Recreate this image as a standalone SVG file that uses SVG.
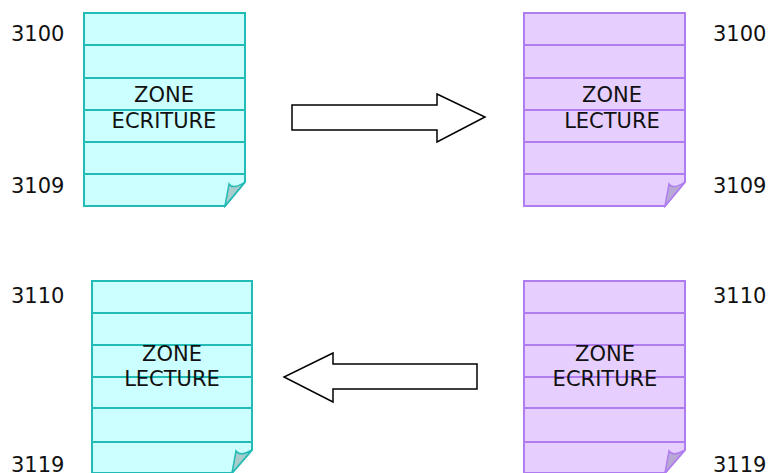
<svg xmlns="http://www.w3.org/2000/svg" width="769" height="473" viewBox="0 0 769 473">
<style>
text{font-family:"DejaVu Sans","Verdana",sans-serif;font-size:21px;fill:#111;}
.zt{text-anchor:middle;}
.cy .pg{fill:#CCFFFF;stroke:#22BBB5;stroke-width:2;}
.cy .ln{stroke:#22BBB5;stroke-width:2;fill:none;}
.cy .fd{fill:#A8CCCC;stroke:#22BBB5;stroke-width:1.5;}
.pu .pg{fill:#E6CFFF;stroke:#B07DF0;stroke-width:2;}
.pu .ln{stroke:#B07DF0;stroke-width:2;fill:none;}
.pu .fd{fill:#B8A8D4;stroke:#B07DF0;stroke-width:1.5;}
.arr{fill:#fff;stroke:#000;stroke-width:1.5;stroke-linejoin:miter;}
</style>
<g id="doc-tl" class="cy">
<path class="pg" d="M84,13 H245 V182 L225,206 H84 Z"/>
<path class="ln" d="M84,45 H245 M84,78 H245 M84,110 H245 M84,142 H245 M84,174 H245"/>
<path class="fd" d="M225,206 L229,184 Q233,190 245,182 Z"/>
<text class="zt" x="164" y="102">ZONE</text>
<text class="zt" x="164" y="128">ECRITURE</text>
</g>
<g id="doc-tr" class="pu">
<path class="pg" d="M524,13 H685 V182 L665,206 H524 Z"/>
<path class="ln" d="M524,45 H685 M524,78 H685 M524,110 H685 M524,142 H685 M524,174 H685"/>
<path class="fd" d="M665,206 L669,184 Q673,190 685,182 Z"/>
<text class="zt" x="612" y="102">ZONE</text>
<text class="zt" x="612" y="128">LECTURE</text>
</g>
<g id="doc-bl" class="cy">
<path class="pg" d="M92,281 H252 V450 L232,473 H92 Z"/>
<path class="ln" d="M92,313 H252 M92,345 H252 M92,377 H252 M92,408 H252 M92,442 H252"/>
<path class="fd" d="M232,473 L236,451 Q240,457 252,450 Z"/>
<text class="zt" x="172" y="361">ZONE</text>
<text class="zt" x="172" y="386">LECTURE</text>
</g>
<g id="doc-br" class="pu">
<path class="pg" d="M524,281 H685 V450 L665,473 H524 Z"/>
<path class="ln" d="M524,313 H685 M524,345 H685 M524,377 H685 M524,408 H685 M524,442 H685"/>
<path class="fd" d="M665,473 L669,451 Q673,457 685,450 Z"/>
<text class="zt" x="605" y="361">ZONE</text>
<text class="zt" x="605" y="386">ECRITURE</text>
</g>
<g id="labels">
<text x="11" y="41">3100</text>
<text x="11" y="193">3109</text>
<text x="713" y="41">3100</text>
<text x="713" y="193">3109</text>
<text x="11" y="303">3110</text>
<text x="11" y="472">3119</text>
<text x="713" y="303">3110</text>
<text x="713" y="472">3119</text>
</g>
<g id="connectors">
<path class="arr" d="M292,105 H437 V94 L485,117 L437,142 V130 H292 Z"/>
<path class="arr" d="M477,364 H333 V353 L284,377 L333,402 V389 H477 Z"/>
</g>
</svg>
